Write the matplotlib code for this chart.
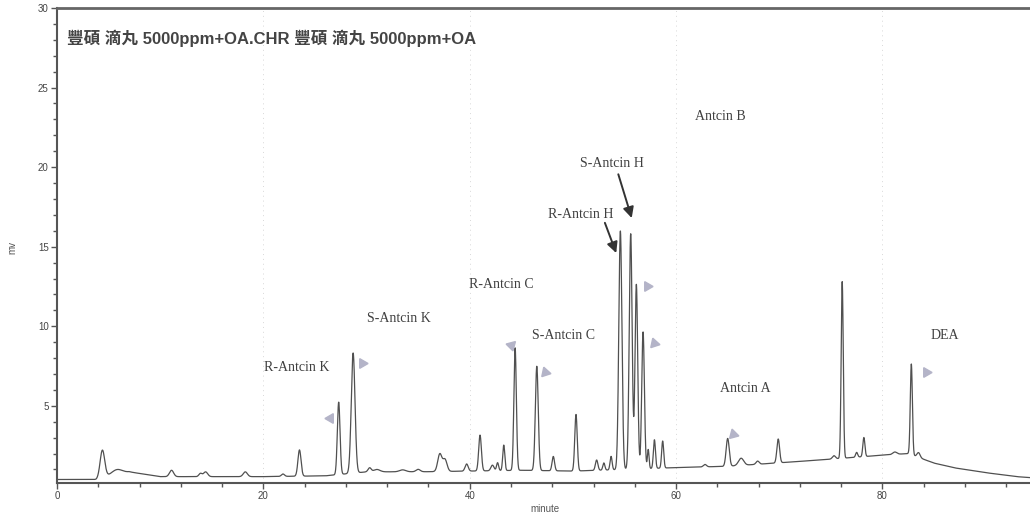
import numpy as np
import matplotlib
matplotlib.use("Agg")
import matplotlib.pyplot as plt

# ---- data ----
title_text = "豐碩 滴丸 5000ppm+OA.CHR 豐碩 滴丸 5000ppm+OA"

# baseline anchor points (minute, mV)
baseline_t = [0, 3.8, 4.3, 7.0, 10.0, 20.0, 26.0, 30.0, 36.0, 40.0, 45.0, 50.0,
              55.0, 60.0, 65.0, 70.0, 74.0, 80.0, 82.5, 85.0, 87.0, 90.0, 93.0, 94.5]
baseline_mv = [0.37, 0.37, 0.5, 0.85, 0.55, 0.55, 0.6, 0.85, 0.86, 0.9, 0.95, 0.9,
               1.0, 1.12, 1.2, 1.42, 1.6, 1.9, 2.0, 1.4, 1.1, 0.8, 0.55, 0.48]

# peaks: retention time (min), height above baseline (mV), width (min)
peak_rt = [4.4, 5.8, 11.1, 13.9, 14.4, 18.25, 21.9, 23.5, 27.3, 28.7, 30.3, 31.0,
           33.5, 35.0, 37.1, 37.6, 39.7, 41.0, 42.2, 42.7, 43.3, 44.4, 46.5, 48.1,
           50.3, 52.3, 53.0, 53.7, 54.6, 55.6, 56.15, 56.8, 57.3, 57.9, 58.7,
           62.8, 65.0, 66.3, 67.9, 69.9, 75.3, 76.1, 77.5, 78.2, 81.2, 82.8, 83.5]
peak_height = [1.7, 0.3, 0.4, 0.2, 0.3, 0.3, 0.15, 1.65, 4.55, 7.55, 0.25, 0.15,
               0.12, 0.15, 1.1, 0.75, 0.45, 2.25, 0.35, 0.5, 1.6, 7.7, 6.55, 0.9,
               3.55, 0.65, 0.45, 0.85, 15.0, 14.8, 11.6, 8.6, 1.2, 1.8, 1.7,
               0.15, 1.75, 0.45, 0.2, 1.5, 0.2, 11.1, 0.3, 1.2, 0.15, 5.7, 0.3]
peak_width = [0.22, 0.5, 0.2, 0.15, 0.2, 0.2, 0.15, 0.15, 0.13, 0.18, 0.15, 0.3,
              0.3, 0.2, 0.2, 0.2, 0.15, 0.13, 0.15, 0.1, 0.1, 0.12, 0.14, 0.12,
              0.12, 0.12, 0.1, 0.1, 0.15, 0.14, 0.13, 0.13, 0.08, 0.1, 0.1,
              0.15, 0.15, 0.25, 0.15, 0.13, 0.15, 0.1, 0.1, 0.1, 0.2, 0.1, 0.15]

# labels: text, x (min), y (mV)
label_text = ["R-Antcin K", "S-Antcin K", "R-Antcin C", "S-Antcin C", "R-Antcin H",
              "S-Antcin H", "Antcin B", "Antcin A", "DEA"]
label_x = [23.2, 33.1, 43.1, 49.1, 50.8, 53.8, 64.3, 66.7, 86.0]
label_y = [7.4, 10.5, 12.6, 9.4, 17.0, 20.2, 23.2, 6.1, 9.4]

# grey triangle markers: x, y, rotation angle (deg)
tri_x = [26.5, 29.6, 44.0, 47.3, 57.2, 57.9, 65.5, 84.2]
tri_y = [4.25, 7.7, 8.8, 7.1, 12.5, 8.95, 3.2, 7.1]
tri_angle = [90, -90, -165, -102, -90, -102, -105, -90]

# dark arrows: tail (x, y) -> head (x, y)
arrow_tail = [(53.1, 16.5), (54.4, 19.55)]
arrow_head = [(54.2, 14.6), (55.7, 16.8)]

# ---- figure ----
fig = plt.figure(figsize=(10.30, 5.17), dpi=100)
ax = fig.add_axes([57 / 1030, 1 - 483 / 517, 1 - 57 / 1030 + 0.002, (483 - 8) / 517])

t = np.linspace(0, 94.5, 9000)
signal = np.interp(t, baseline_t, baseline_mv)
for rt, h, w in zip(peak_rt, peak_height, peak_width):
    signal = signal + h * np.exp(-0.5 * ((t - rt) / w) ** 2)

for gx in [20, 40, 60, 80]:
    ax.axvline(gx, color="#d8d8d8", lw=0.7, ls=(0, (1, 4)), zorder=0)

ax.plot(t, signal, color="#505050", lw=0.9)

ax.set_xlim(0, 94.5)
ax.set_ylim(0.15, 30)

ax.set_xticks([0, 20, 40, 60, 80])
ax.set_xticks(np.arange(0, 95, 4), minor=True)
ax.set_yticks([5, 10, 15, 20, 25, 30])
ax.set_yticks(np.arange(1, 31, 1), minor=True)
ax.tick_params(axis="both", which="major", direction="out", length=4, width=1,
               color="#555555", labelsize=7, labelcolor="#444444", pad=2)
ax.tick_params(axis="both", which="minor", direction="out", length=3, width=1,
               color="#555555")
for lab in ax.get_xticklabels() + ax.get_yticklabels():
    lab.set_family("Liberation Sans")

ax.spines["right"].set_visible(False)
ax.spines["top"].set_linewidth(2.0)
ax.spines["top"].set_color("#666666")
for s in ["left", "bottom"]:
    ax.spines[s].set_linewidth(1.5)
    ax.spines[s].set_color("#555555")

ax.set_xlabel("minute", fontsize=7, color="#555555", family="Liberation Sans", labelpad=2)
fig.text(12 / 1030, 1 - 247 / 517, "mv", rotation=90, fontsize=7, color="#555555",
         ha="center", va="center", family="Liberation Sans")

ax.text(0.0103, 0.937, title_text, transform=ax.transAxes, fontsize=12,
        fontweight="bold", color="#444444", ha="left", va="center",
        family=["Liberation Sans", "Noto Sans CJK TC"])

for txt, lx, ly in zip(label_text, label_x, label_y):
    ax.text(lx, ly, txt, fontsize=10, color="#404040", family="Liberation Serif",
            ha="center", va="center")

for x, y, a in zip(tri_x, tri_y, tri_angle):
    ax.plot([x], [y], marker=(3, 0, a), markersize=8, color="#b4b4c8",
            markeredgecolor="#b4b4c8", linestyle="none")

for (tx, ty), (hx, hy) in zip(arrow_tail, arrow_head):
    ax.annotate("", xy=(hx, hy), xytext=(tx, ty),
                arrowprops=dict(arrowstyle="-|>", color="#333333", lw=1.4,
                                mutation_scale=16, shrinkA=0, shrinkB=0))

fig.savefig("out.png", dpi=100, facecolor="white")
